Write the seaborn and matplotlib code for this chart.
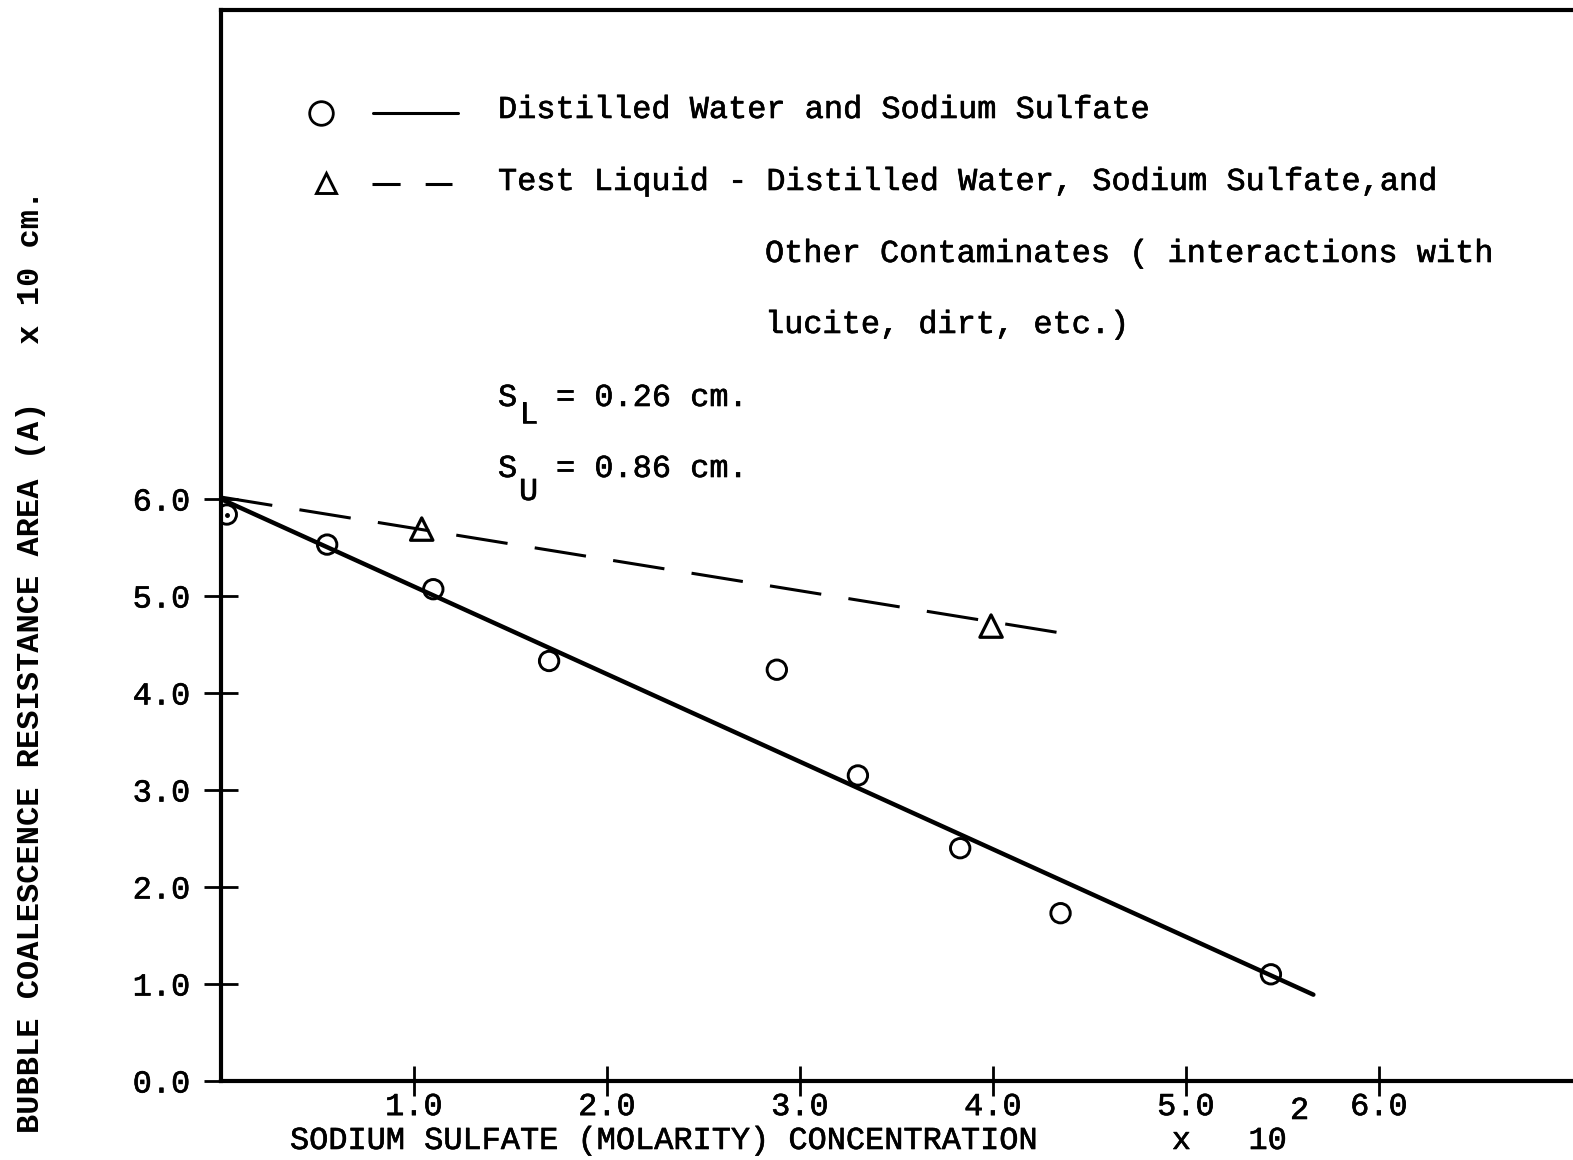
import matplotlib
matplotlib.use("Agg")
import matplotlib.pyplot as plt
import matplotlib.patheffects as pe
from matplotlib.lines import Line2D
import seaborn as sns

# Distilled water + sodium sulfate measurements (concentration x 10^2, area x 10 cm)
water_conc = [0.03, 0.55, 1.10, 1.70, 2.88, 3.30, 3.83, 4.35, 5.44]
water_area = [5.84, 5.53, 5.07, 4.33, 4.24, 3.15, 2.40, 1.73, 1.10]

# Test liquid measurements
test_conc = [1.04, 3.99]
test_area = [5.69, 4.69]

# Fitted straight lines (end points)
water_fit_conc = [0.0, 5.66]
water_fit_area = [6.00, 0.89]
test_fit_conc = [0.0, 4.41]
test_fit_area = [6.02, 4.60]

x_ticks = [1.0, 2.0, 3.0, 4.0, 5.0, 6.0]
x_tick_labels = ["1.0", "2.0", "3.0", "4.0", "5.0", "6.0"]
y_ticks = [0.0, 1.0, 2.0, 3.0, 4.0, 5.0, 6.0]
y_tick_labels = ["0.0", "1.0", "2.0", "3.0", "4.0", "5.0", "6.0"]

legend_lines = [
    "Distilled Water and Sodium Sulfate",
    "Test Liquid - Distilled Water, Sodium Sulfate,and",
    "Other Contaminates ( interactions with",
    "lucite, dirt, etc.)",
]

sns.set_theme(style="white")
plt.rcParams["font.family"] = ["Liberation Mono", "DejaVu Sans Mono"]

W, H = 1573, 1160
fig = plt.figure(figsize=(W / 100, H / 100), dpi=100)
fig.patch.set_facecolor("white")

# axes frame in pixels: left 221, bottom 1081, top 10, runs off the right edge
ax = fig.add_axes([221 / W, (H - 1081) / H, 1352 / W, 1071 / H])
ax.set_facecolor("white")
ax.set_xlim(0, 1352 / 193)
ax.set_ylim(0, 1071 / 97)

FS = 23
INK = "black"
# typewriter ink: slightly heavier strokes than the plain font
TYPE = [pe.withStroke(linewidth=0.45, foreground=INK)]

# fitted lines
sns.lineplot(x=water_fit_conc, y=water_fit_area, ax=ax, color=INK, lw=3.2,
             estimator=None, sort=False)
sns.lineplot(x=test_fit_conc, y=test_fit_area, ax=ax, color=INK, lw=2.2,
             estimator=None, sort=False, linestyle=(0, (17, 9)))

# measured points
sns.scatterplot(x=water_conc, y=water_area, ax=ax, marker="o", s=195,
                facecolors="none", edgecolor=INK, linewidth=2.1, zorder=5)
sns.scatterplot(x=test_conc, y=test_area, ax=ax, marker="^", s=260,
                facecolors="none", edgecolor=INK, linewidth=2.3, zorder=5)
ax.plot(water_conc[0], water_area[0], marker="o", ms=2.5, color=INK, zorder=6)

# frame
for side in ["left", "bottom", "top"]:
    ax.spines[side].set_visible(True)
    ax.spines[side].set_linewidth(3.0)
    ax.spines[side].set_color(INK)
ax.spines["right"].set_visible(False)

ax.set_xticks(x_ticks)
ax.set_xticklabels(x_tick_labels)
ax.set_yticks(y_ticks)
ax.set_yticklabels(y_tick_labels)
ax.tick_params(axis="x", direction="inout", length=22, width=2.0, pad=-3,
               labelsize=FS, colors=INK, bottom=True)
ax.tick_params(axis="y", direction="inout", length=24, width=2.0, pad=10,
               labelsize=FS, colors=INK, left=True)
ax.grid(False)
for lab in ax.get_xticklabels() + ax.get_yticklabels():
    lab.set_path_effects(TYPE)

# axis titles
ax.set_xlabel("SODIUM SULFATE (MOLARITY) CONCENTRATION       x   10",
              fontsize=FS, color=INK, ha="left", va="baseline")
ax.xaxis.set_label_coords((290 - 221) / 1352, (1081 - 1149) / 1071)
ax.xaxis.label.set_path_effects(TYPE)
fig.text(1290 / W, 1 - 1119 / H, "2", fontsize=FS, color=INK,
         ha="left", va="baseline", path_effects=TYPE)

ax.set_ylabel("BUBBLE COALESCENCE RESISTANCE AREA (A)   x 10 cm.",
              fontsize=FS, color=INK, fontweight="bold", ha="center", va="center")
ax.yaxis.set_label_coords((31 - 221) / 1352, (1081 - 661) / 1071)


def fx(px):
    return px / W


def fy(py):
    return 1 - py / H


def put(px, py, s):
    fig.text(fx(px), fy(py), s, fontsize=FS, color=INK, va="baseline",
             path_effects=TYPE)


# key
fig.add_artist(Line2D([fx(321)], [fy(113)], marker="o", ms=17, mfc="none",
                      mec=INK, mew=2.0, transform=fig.transFigure))
fig.add_artist(Line2D([fx(373), fx(458)], [fy(113), fy(113)], color=INK, lw=2.2,
                      transform=fig.transFigure))
fig.add_artist(Line2D([fx(326)], [fy(183)], marker="^", ms=15, mfc="none",
                      mec=INK, mew=2.1, transform=fig.transFigure))
fig.add_artist(Line2D([fx(372), fx(452)], [fy(184), fy(184)], color=INK, lw=2.2,
                      linestyle=(0, (9.2, 8.2)), transform=fig.transFigure))

put(498, 118, legend_lines[0])
put(498, 190, legend_lines[1])
put(765, 262, legend_lines[2])
put(765, 333, legend_lines[3])

# separation constants
put(498, 406, "S")
put(519, 423, "L")
put(556, 406, "= 0.26 cm.")
put(498, 477, "S")
put(519, 500, "U")
put(556, 477, "= 0.86 cm.")

fig.savefig("out.png", dpi=100, facecolor="white")
